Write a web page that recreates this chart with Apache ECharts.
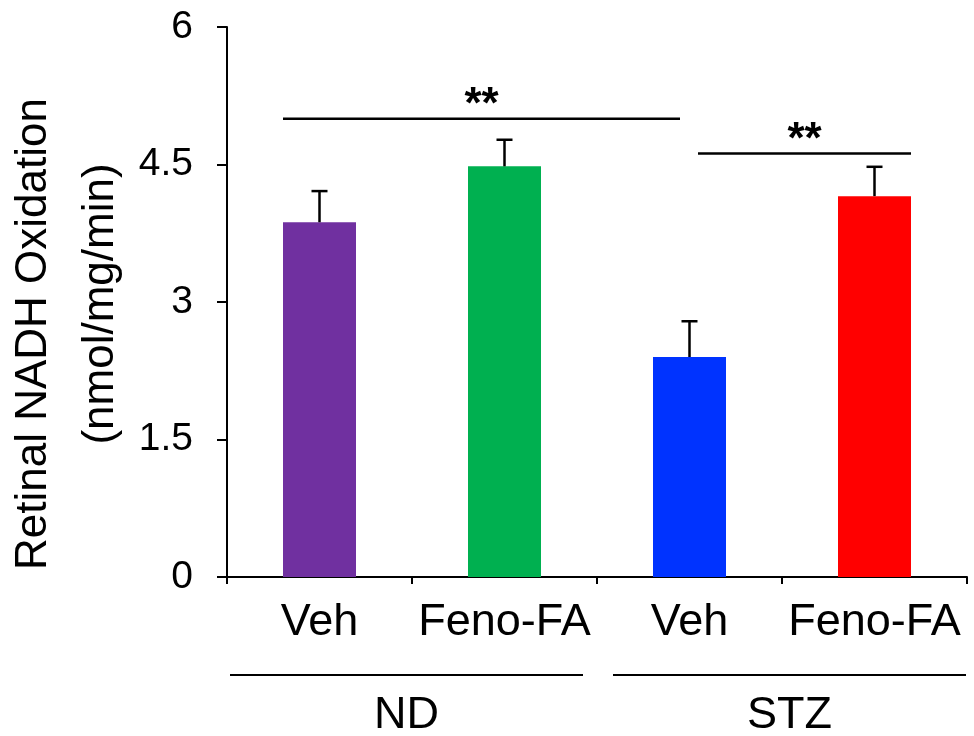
<!DOCTYPE html>
<html><head><meta charset="utf-8">
<script src="https://cdn.jsdelivr.net/npm/echarts@6/dist/echarts.min.js"></script>
<style>html,body{margin:0;padding:0;background:#fff}#c{width:974px;height:736px}</style>
</head><body><div id="c"></div>
<script>
// ---- data ----
const categories = ['Veh', 'Feno-FA', 'Veh', 'Feno-FA'];
const means = [3.87, 4.48, 2.40, 4.155];
const errors = [0.34, 0.29, 0.39, 0.32];
const barColors = ['#7030A0', '#00B050', '#0033FF', '#FF0000'];
const groupNames = ['ND', 'STZ'];
const groupMembers = [[0, 1], [2, 3]];
const yMin = 0, yMax = 6, yStep = 1.5;
const sigBars = [
  { from: 0, to: 2, level: 5.0, label: '**' },
  { from: 2, to: 3, level: 4.62, label: '**' }
];
const titleLines = ['Retinal NADH Oxidation', '(nmol/mg/min)'];

// ---- chart ----
const FONT = '"Liberation Sans", Arial, Helvetica, sans-serif';
const chart = echarts.init(document.getElementById('c'), null, { renderer: 'canvas' });

const option = {
  animation: false,
  backgroundColor: '#fff',
  grid: { left: 227, right: 7, top: 27, bottom: 159, containLabel: false },
  xAxis: {
    type: 'category',
    data: categories,
    axisLine: { lineStyle: { color: '#000', width: 2 } },
    axisTick: { show: true, length: 7, lineStyle: { color: '#000', width: 2 }, alignWithLabel: false },
    axisLabel: { color: '#000', fontSize: 45, fontFamily: FONT, margin: 23, interval: 0 },
    splitLine: { show: false }
  },
  yAxis: {
    type: 'value',
    min: yMin, max: yMax, interval: yStep,
    axisLine: { show: true, lineStyle: { color: '#000', width: 2 } },
    axisTick: { show: true, length: 10, lineStyle: { color: '#000', width: 2 } },
    axisLabel: { color: '#000', fontSize: 39, fontFamily: FONT, margin: 34 },
    splitLine: { show: false }
  },
  series: [
    {
      type: 'bar',
      barWidth: 73,
      data: means.map((v, i) => ({ value: v, itemStyle: { color: barColors[i] } })),
      z: 2
    },
    {
      type: 'custom',
      z: 3,
      data: means.map((v, i) => [i, v, errors[i]]),
      renderItem: function (params, api) {
        const x = api.value(0), m = api.value(1), e = api.value(2);
        const p0 = api.coord([x, m]);
        const p1 = api.coord([x, m + e]);
        const st = { stroke: '#000', lineWidth: 2.5 };
        return {
          type: 'group',
          children: [
            { type: 'line', shape: { x1: p0[0], y1: p0[1], x2: p1[0], y2: p1[1] }, style: st },
            { type: 'line', shape: { x1: p1[0] - 8, y1: p1[1], x2: p1[0] + 8, y2: p1[1] }, style: st }
          ]
        };
      }
    }
  ]
};
chart.setOption(option);

// ---- annotations positioned through the axes ----
function px(i, v) { return chart.convertToPixel({ gridIndex: 0 }, [i, v]); }
const band = px(1, 0)[0] - px(0, 0)[0];
const axisY = px(0, 0)[1];
const graphics = [];

// significance bars
const sigOffsets = [[-36.5, -9.5], [8.5, 36.5]];
sigBars.forEach((s, k) => {
  const a = px(s.from, s.level), b = px(s.to, s.level);
  const x1 = a[0] + sigOffsets[k][0], x2 = b[0] + sigOffsets[k][1];
  graphics.push({ type: 'line', shape: { x1: x1, y1: a[1], x2: x2, y2: a[1] }, style: { stroke: '#000', lineWidth: 2.5 } });
  graphics.push({ type: 'text', x: (x1 + x2) / 2, y: a[1] + 9,
    style: { text: s.label, fill: '#000', font: 'bold 44px ' + FONT, textAlign: 'center', textVerticalAlign: 'bottom' } });
});

// group lines and labels
const groupOffsets = [[3, -14], [16, -1]];
groupMembers.forEach((mem, g) => {
  const x1 = px(mem[0], 0)[0] - band / 2 + groupOffsets[g][0];
  const x2 = px(mem[mem.length - 1], 0)[0] + band / 2 + groupOffsets[g][1];
  const ly = axisY + 98;
  graphics.push({ type: 'line', shape: { x1: x1, y1: ly, x2: x2, y2: ly }, style: { stroke: '#000', lineWidth: 2 } });
  graphics.push({ type: 'text', x: (x1 + x2) / 2, y: ly + 41,
    style: { text: groupNames[g], fill: '#000', font: '45px ' + FONT, textAlign: 'center', textVerticalAlign: 'middle' } });
});

// y-axis title (two lines)
const titlePos = [[34, 334], [101, 304]];
titleLines.forEach((t, i) => {
  graphics.push({ type: 'text', x: titlePos[i][0], y: titlePos[i][1], rotation: Math.PI / 2,
    style: { text: t, fill: '#000', font: '44px ' + FONT, textAlign: 'center', textVerticalAlign: 'middle' } });
});

chart.setOption({ graphic: graphics });
</script>
</body></html>
